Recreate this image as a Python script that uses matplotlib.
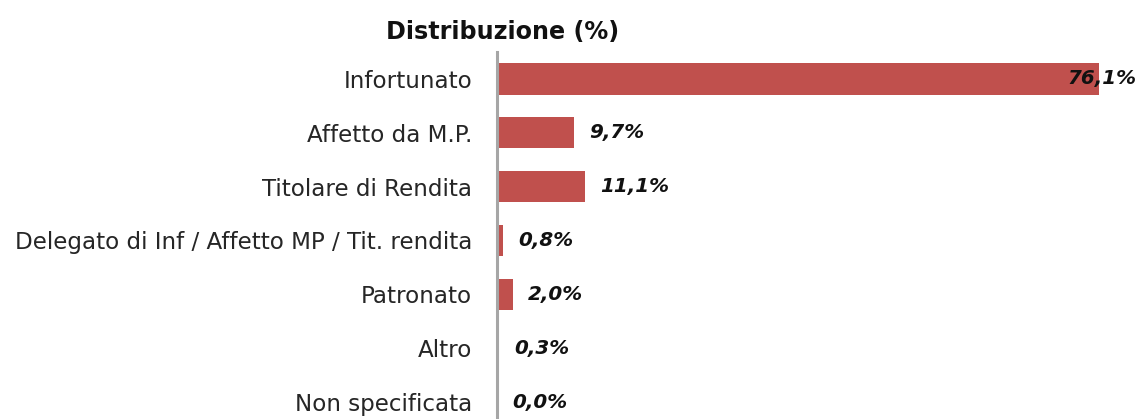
import matplotlib
matplotlib.use("Agg")
import matplotlib.pyplot as plt

categories = ["Infortunato", "Affetto da M.P.", "Titolare di Rendita",
              "Delegato di Inf / Affetto MP / Tit. rendita", "Patronato",
              "Altro", "Non specificata"]
values = [76.1, 9.7, 11.1, 0.8, 2.0, 0.3, 0.0]
labels = ["76,1%", "9,7%", "11,1%", "0,8%", "2,0%", "0,3%", "0,0%"]
title = "Distribuzione (%)"

FONT = "DejaVu Sans"
W, H = 1139, 419
fig = plt.figure(figsize=(W / 100, H / 100), dpi=100)
ax_left, ax_right = 497, 1139
ax_top, ax_bot = 52, 419
ax = fig.add_axes([ax_left / W, 1 - ax_bot / H, (ax_right - ax_left) / W, (ax_bot - ax_top) / H])

ypos = list(range(len(categories)))
ax.barh(ypos, values, height=0.58, color="#C0504D")
ax.set_xlim(0, (ax_right - ax_left) / 7.91)
ax.set_ylim(6.5 - 10 / 54, -0.5)
ax.set_yticks(ypos)
ax.set_yticklabels(categories, fontsize=16.6, color="#262626", family=FONT)
ax.tick_params(axis="y", length=0, pad=18)
ax.set_xticks([])
for s in ["top", "right", "bottom"]:
    ax.spines[s].set_visible(False)
ax.spines["left"].set_color("#A6A6A6")
ax.spines["left"].set_linewidth(2.2)

for i, (v, lab) in enumerate(zip(values, labels)):
    if i == 0:
        ax.annotate(lab, (v, i), xytext=(27, 0), textcoords="offset points",
                    ha="right", va="center", fontsize=14.3, fontweight="bold",
                    fontstyle="italic", color="#111111", family=FONT)
    else:
        ax.annotate(lab, (v, i), xytext=(11, 0), textcoords="offset points",
                    ha="left", va="center", fontsize=14.3, fontweight="bold",
                    fontstyle="italic", color="#111111", family=FONT)

fig.text(503 / W, 1 - 32 / H, title, ha="center", va="center", fontsize=17.2,
         fontweight="bold", color="#111111", family=FONT)

fig.savefig("out.png", dpi=100)
